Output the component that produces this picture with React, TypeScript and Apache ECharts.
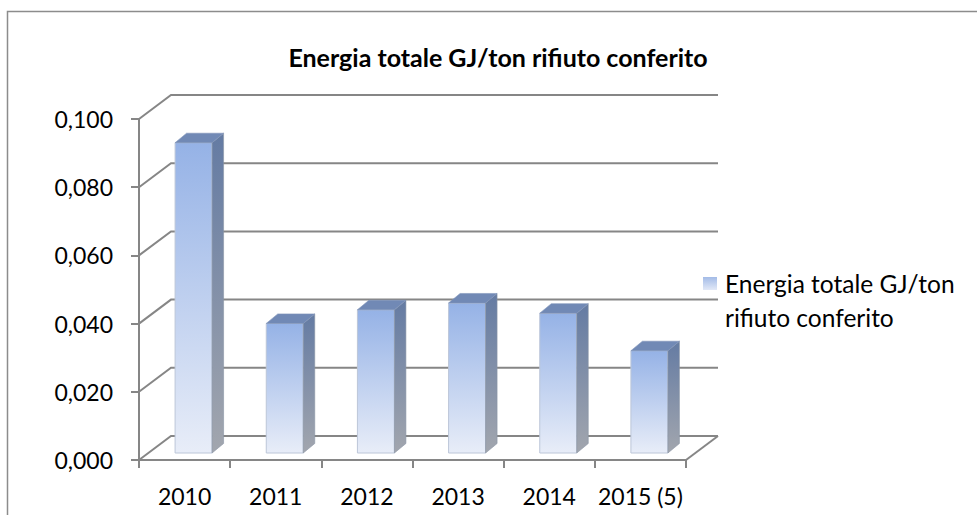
import React, { useEffect, useRef } from "react";
import * as echarts from "echarts";

const categories = ["2010", "2011", "2012", "2013", "2014", "2015 (5)"];
const values = [0.091, 0.038, 0.042, 0.044, 0.041, 0.03];
const yTicks = [0, 0.02, 0.04, 0.06, 0.08, 0.1];
const seriesName = "Energia totale GJ/ton rifiuto conferito";
const titleText = "Energia totale GJ/ton rifiuto conferito";
const legendLines = ["Energia totale GJ/ton", "rifiuto conferito"];

const FONT = "Lato";
const GRID_COLOR = "#868686";
const WALL_DX = 32;
const WALL_DY = -24;
const BAR_OFF_X = 9;
const BAR_OFF_Y = -7;
const BAR_HALF = 18.5;
const BAR_DX = 11.5;
const BAR_DY = -9.5;

export default function App() {
  const ref = useRef<HTMLDivElement>(null);
  useEffect(() => {
    if (!ref.current) return;
    const chart = echarts.init(ref.current, undefined, { renderer: "svg" });
    const option: any = {
      animation: false,
      backgroundColor: "#ffffff",
      grid: {
        left: 139,
        top: 119,
        width: 547,
        height: 341,
        containLabel: false,
        outerBoundsMode: "none",
      },
      xAxis: {
        type: "category",
        data: categories,
        boundaryGap: true,
        axisLine: { show: true, lineStyle: { color: GRID_COLOR, width: 2 } },
        axisTick: { show: true, length: 8, interval: 0, lineStyle: { color: GRID_COLOR, width: 2 } },
        axisLabel: { interval: 0, margin: 24, color: "#000", fontFamily: FONT, fontSize: 23 },
        splitLine: { show: false },
      },
      yAxis: {
        type: "value",
        min: 0,
        max: 0.1,
        interval: 0.02,
        axisLine: { show: true, lineStyle: { color: GRID_COLOR, width: 2 } },
        axisTick: { show: true, length: 8, lineStyle: { color: GRID_COLOR, width: 2 } },
        axisLabel: {
          margin: 26,
          color: "#000",
          fontFamily: FONT,
          fontSize: 23,
          formatter: (v: number) => v.toFixed(3).replace(".", ","),
        },
        splitLine: { show: false },
      },
      series: [
        {
          type: "custom",
          name: "walls",
          z: 1,
          silent: true,
          data: yTicks.map((t) => [0, t]),
          encode: { x: 0, y: 1 },
          renderItem: (params: any, api: any) => {
            const cs = params.coordSys;
            const v = api.value(1);
            const y = api.coord([0, v])[1];
            const x0 = cs.x;
            const x1 = cs.x + cs.width;
            const style = { stroke: GRID_COLOR, lineWidth: 2, fill: "none" };
            const children: any[] = [
              {
                type: "polyline",
                shape: {
                  points: [
                    [x0, y],
                    [x0 + WALL_DX, y + WALL_DY],
                    [x1 + WALL_DX, y + WALL_DY],
                  ],
                },
                style,
              },
            ];
            if (v === 0) {
              children.push({
                type: "line",
                shape: { x1: x1, y1: y, x2: x1 + WALL_DX, y2: y + WALL_DY },
                style,
              });
            }
            return { type: "group", children };
          },
        },
        {
          type: "custom",
          name: seriesName,
          z: 3,
          data: values.map((v, i) => [i, v]),
          encode: { x: 0, y: 1 },
          renderItem: (params: any, api: any) => {
            const i = api.value(0);
            const v = api.value(1);
            const p0 = api.coord([i, 0]);
            const p1 = api.coord([i, v]);
            const cx = p0[0] + BAR_OFF_X;
            const bottom = p0[1] + BAR_OFF_Y;
            const top = p1[1] + BAR_OFF_Y;
            const l = cx - BAR_HALF;
            const r = cx + BAR_HALF;
            const front = {
              type: "polygon",
              shape: { points: [[l, top], [r, top], [r, bottom], [l, bottom]] },
              style: {
                fill: new echarts.graphic.LinearGradient(0, 0, 0, 1, [
                  { offset: 0, color: "#95b2e6" },
                  { offset: 1, color: "#e8edf8" },
                ]),
                stroke: "#bcc6d8",
                lineWidth: 1,
              },
            };
            const side = {
              type: "polygon",
              shape: {
                points: [
                  [r, top],
                  [r + BAR_DX, top + BAR_DY],
                  [r + BAR_DX, bottom + BAR_DY],
                  [r, bottom],
                ],
              },
              style: {
                fill: new echarts.graphic.LinearGradient(0, 0, 0, 1, [
                  { offset: 0, color: "#647ba3" },
                  { offset: 1, color: "#a2a6ae" },
                ]),
                stroke: "#8a93a5",
                lineWidth: 0.6,
              },
            };
            const topFace = {
              type: "polygon",
              shape: {
                points: [
                  [l, top],
                  [l + BAR_DX, top + BAR_DY],
                  [r + BAR_DX, top + BAR_DY],
                  [r, top],
                ],
              },
              style: { fill: "#7189b5", stroke: "#8195bb", lineWidth: 0.6 },
            };
            return { type: "group", children: [front, side, topFace] };
          },
        },
      ],
      graphic: [
        {
          type: "rect",
          silent: true,
          shape: { x: 7.5, y: 11.5, width: 1000, height: 600 },
          style: { fill: "none", stroke: "#8c8c8c", lineWidth: 1.5 },
          z: 0,
        },
        {
          type: "text",
          x: 498,
          y: 57,
          style: {
            text: titleText,
            fontFamily: FONT,
            fontWeight: "bold",
            fontSize: 25,
            fill: "#000",
            align: "center",
            verticalAlign: "middle",
          },
        },
        {
          type: "rect",
          shape: { x: 703, y: 277, width: 14, height: 13 },
          style: {
            fill: new echarts.graphic.LinearGradient(0, 0, 0, 1, [
              { offset: 0, color: "#a3bbe7" },
              { offset: 1, color: "#e2e9f7" },
            ]),
          },
        },
        {
          type: "text",
          x: 725,
          y: 266,
          style: {
            text: legendLines.join("\n"),
            fontFamily: FONT,
            fontSize: 24.5,
            lineHeight: 34,
            fill: "#000",
            align: "left",
            verticalAlign: "top",
          },
        },
      ],
    };
    chart.setOption(option);
    return () => chart.dispose();
  }, []);
  return (
    <div
      ref={ref}
      style={{ position: "fixed", left: 0, top: 0, width: 977, height: 515 }}
    />
  );
}
